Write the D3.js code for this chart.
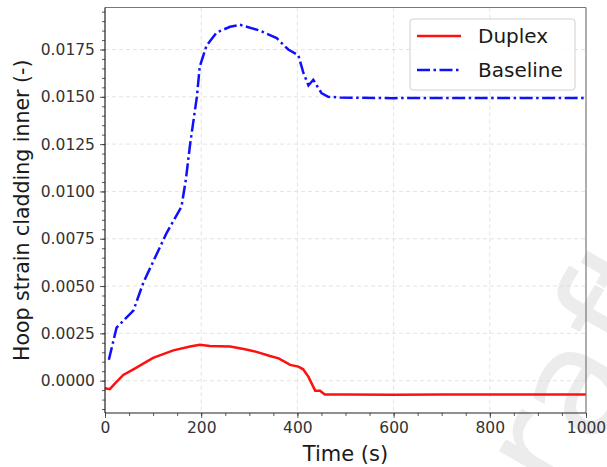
<!DOCTYPE html>
<html>
<head>
<meta charset="utf-8">
<script src="https://cdn.jsdelivr.net/npm/d3@7"></script>
<style>
  body { margin: 0; background: #fff; }
  svg { display: block; font-family: "DejaVu Sans", sans-serif; }
</style>
</head>
<body>
<script>
// series: [time (s), hoop strain (-)]
const duplexT = [0, 10, 21, 38, 59, 100, 142, 177, 197, 218, 260, 291, 315, 343, 361, 385, 402, 412, 423, 437, 447, 457, 500, 600, 700, 800, 900, 1000]
const duplexV = [-0.0004, -0.00045, -0.00014, 0.0003, 0.0006, 0.0012, 0.0016, 0.0018, 0.0019, 0.00183, 0.0018, 0.00166, 0.00152, 0.0013, 0.00118, 0.00083, 0.00074, 0.0006, 0.0002, -0.00053, -0.00053, -0.00073, -0.00073, -0.00074, -0.00073, -0.00073, -0.00073, -0.00073]

const baseT = [8, 24, 59, 80, 128, 159, 168, 177, 191, 197, 211, 232, 260, 281, 322, 357, 381, 402, 412, 423, 433, 450, 464, 488, 520, 600, 700, 800, 900, 1000]
const baseV = [0.0011, 0.0028, 0.0037, 0.0052, 0.0078, 0.0092, 0.0106, 0.0125, 0.0150, 0.0166, 0.0177, 0.0184, 0.0187, 0.0188, 0.0185, 0.0181, 0.0175, 0.0172, 0.0163, 0.0156, 0.0159, 0.0152, 0.0150, 0.01497, 0.01495, 0.01493, 0.01494, 0.01494, 0.01494, 0.01494]

const xTicks = [0, 200, 400, 600, 800, 1000]
const yTicks = [0, 0.0025, 0.005, 0.0075, 0.01, 0.0125, 0.015, 0.0175]
const seriesNames = ["Duplex", "Baseline"]

const W = 607, H = 467
const pL = 105, pR = 586, pT = 7.5, pB = 413

const svg = d3.select("body").append("svg")
    .attr("width", W)
    .attr("height", H)

// faint watermark behind everything
svg.append("text")
    .attr("transform", "translate(600,440) rotate(-60)")
    .attr("text-anchor", "middle")
    .attr("font-size", 150)
    .attr("fill", "#ececec")
    .text("Draft")

const x = d3.scaleLinear().domain([0, 1000]).range([pL, pR])
const y = d3.scaleLinear().domain([-0.00171, 0.01972]).range([pB, pT])

// grid
const grid = svg.append("g")
grid.selectAll(".gx").data(xTicks.slice(1, -1)).enter().append("line")
    .attr("x1", d => x(d)).attr("x2", d => x(d))
    .attr("y1", pT).attr("y2", pB)
    .attr("stroke", "#dcdcdc").attr("stroke-dasharray", "4,3").attr("stroke-width", 0.8)
grid.selectAll(".gy").data(yTicks).enter().append("line")
    .attr("y1", d => y(d)).attr("y2", d => y(d))
    .attr("x1", pL).attr("x2", pR)
    .attr("stroke", "#dcdcdc").attr("stroke-dasharray", "4,3").attr("stroke-width", 0.8)

// axes
const xAxis = d3.axisBottom(x).tickValues(xTicks).tickFormat(d3.format("d")).tickSizeOuter(0).tickSize(5).tickPadding(4)
const xMinor = d3.axisBottom(x).tickValues(d3.range(0, 1001, 50)).tickFormat("").tickSizeOuter(0).tickSize(3)
const yAxis = d3.axisLeft(y).tickValues(yTicks).tickFormat(d3.format(".4f")).tickSizeOuter(0).tickSize(5).tickPadding(5)
const yMinor = d3.axisLeft(y).tickValues(d3.range(-0.0015, 0.0197, 0.0005)).tickFormat("").tickSizeOuter(0).tickSize(3)

const gx = svg.append("g").attr("transform", `translate(0,${pB})`).call(xAxis)
svg.append("g").attr("transform", `translate(0,${pB})`).call(xMinor)
const gy = svg.append("g").attr("transform", `translate(${pL},0)`).call(yAxis)
svg.append("g").attr("transform", `translate(${pL},0)`).call(yMinor)

svg.selectAll(".domain").remove()
svg.selectAll(".tick line").attr("stroke", "#333").attr("stroke-width", 0.8)
gx.selectAll("text").attr("font-size", 15.5).attr("fill", "#333").attr("font-family", "DejaVu Sans")
gy.selectAll("text").attr("font-size", 15.5).attr("fill", "#333").attr("font-family", "DejaVu Sans")

// lines
const line = d3.line().x(d => x(d[0])).y(d => y(d[1]))
const duplex = d3.zip(duplexT, duplexV)
const baseline = d3.zip(baseT, baseV)

svg.append("path").datum(duplex)
    .attr("d", line).attr("fill", "none")
    .attr("stroke", "#ff1010").attr("stroke-width", 2.5)
svg.append("path").datum(baseline)
    .attr("d", line).attr("fill", "none")
    .attr("stroke", "#1010ff").attr("stroke-width", 2.5)
    .attr("stroke-dasharray", "13,3.5,2.5,3.5")

// spines
svg.append("line").attr("x1", pL).attr("x2", pR).attr("y1", pT).attr("y2", pT).attr("stroke", "#777").attr("stroke-width", 1.2)
svg.append("line").attr("x1", pR).attr("x2", pR).attr("y1", pT).attr("y2", pB).attr("stroke", "#777").attr("stroke-width", 1.2)
svg.append("line").attr("x1", pL).attr("x2", pL).attr("y1", pT).attr("y2", pB).attr("stroke", "#222").attr("stroke-width", 1.2)
svg.append("line").attr("x1", pL).attr("x2", pR).attr("y1", pB).attr("y2", pB).attr("stroke", "#222").attr("stroke-width", 1.2)

// axis labels
svg.append("text")
    .attr("x", (pL + pR) / 2).attr("y", 461)
    .attr("text-anchor", "middle").attr("font-size", 21).attr("fill", "#1a1a1a")
    .text("Time (s)")
svg.append("text")
    .attr("transform", `translate(29,${(pT + pB) / 2}) rotate(-90)`)
    .attr("text-anchor", "middle").attr("font-size", 20.5).attr("fill", "#1a1a1a")
    .text("Hoop strain cladding inner (-)")

// legend
const lg = svg.append("g").attr("transform", "translate(410,19)")
lg.append("rect").attr("width", 165).attr("height", 71).attr("rx", 3)
    .attr("fill", "#fff").attr("fill-opacity", 0.85).attr("stroke", "#d0d0d0")
const styles = [{ c: "#ff1010", dash: null }, { c: "#1010ff", dash: "13,3.5,2.5,3.5" }]
seriesNames.forEach((n, i) => {
    const yy = 17 + i * 34
    lg.append("line").attr("x1", 7).attr("x2", 51).attr("y1", yy).attr("y2", yy)
        .attr("stroke", styles[i].c).attr("stroke-width", 2.5)
        .attr("stroke-dasharray", styles[i].dash)
    lg.append("text").attr("x", 68).attr("y", yy + 7)
        .attr("font-size", 20).attr("fill", "#1a1a1a").text(n)
})
</script>
</body>
</html>
